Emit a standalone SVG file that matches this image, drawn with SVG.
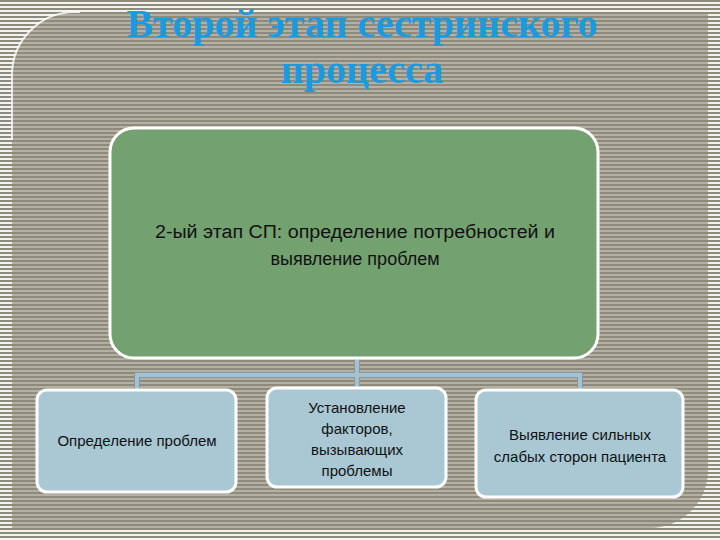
<svg xmlns="http://www.w3.org/2000/svg" width="720" height="540" viewBox="0 0 720 540">
<defs>
<pattern id="outer" width="8" height="4" patternUnits="userSpaceOnUse"><rect width="8" height="4" fill="#f2f2ee"/><rect width="8" height="2" fill="#8e8b7e"/></pattern>
<pattern id="inner" width="8" height="4" patternUnits="userSpaceOnUse"><rect width="8" height="4" fill="#b4b0a4"/><rect width="8" height="2" fill="#8f8b7c"/></pattern>
<style>
.t{font-family:"Liberation Sans",Arial,sans-serif;fill:#111;text-anchor:middle}
.sub{fill:#a9c8d4;stroke:#fff;stroke-width:3}
.conn{fill:none;stroke:#a6c2cf;stroke-width:4}
.conno{fill:none;stroke:#7f9aa6;stroke-width:6}
</style>
</defs>
<rect width="720" height="540" fill="url(#outer)"/>
<path d="M75 12 H708 V470 A58 58 0 0 1 650 528 H12 V75 A63 63 0 0 1 75 12 Z" fill="url(#inner)"/>
<path d="M12 140 V75 A63 63 0 0 1 75 12 H80" fill="none" stroke="#fff" stroke-width="2" opacity="0.8"/>
<text x="362" y="37" font-family="Liberation Serif,serif" font-weight="bold" font-size="40" fill="#1a9be0" text-anchor="middle">Второй этап сестринского</text>
<text x="362" y="83" font-family="Liberation Serif,serif" font-weight="bold" font-size="40" fill="#1a9be0" text-anchor="middle">процесса</text>
<g id="connectors">
<path class="conno" d="M357 358 V375 M137 390 V375 H580 V390 M357 375 V388"/>
<path class="conn" d="M357 358 V375 M137 390 V375 H580 V390 M357 375 V388"/>
</g>
<g id="main">
<rect x="110" y="128" width="488" height="230" rx="24" fill="#73a170" stroke="#fff" stroke-width="3"/>
<text class="t" x="355" y="238" font-size="18" textLength="400" lengthAdjust="spacingAndGlyphs">2-ый этап СП: определение потребностей и</text>
<text class="t" x="355" y="265" font-size="18">выявление проблем</text>
</g>
<g id="n1">
<rect class="sub" x="37" y="390" width="199" height="102" rx="10"/>
<text class="t" x="137" y="446" font-size="15">Определение проблем</text>
</g>
<g id="n2">
<rect class="sub" x="267" y="388" width="179" height="99" rx="10"/>
<text class="t" x="357" y="413" font-size="15">Установление</text>
<text class="t" x="357" y="434" font-size="15">факторов,</text>
<text class="t" x="357" y="455" font-size="15">вызывающих</text>
<text class="t" x="357" y="476" font-size="15">проблемы</text>
</g>
<g id="n3">
<rect class="sub" x="476" y="390" width="207" height="107" rx="10"/>
<text class="t" x="580" y="440" font-size="15">Выявление сильных</text>
<text class="t" x="580" y="462" font-size="15">слабых сторон пациента</text>
</g>
</svg>
